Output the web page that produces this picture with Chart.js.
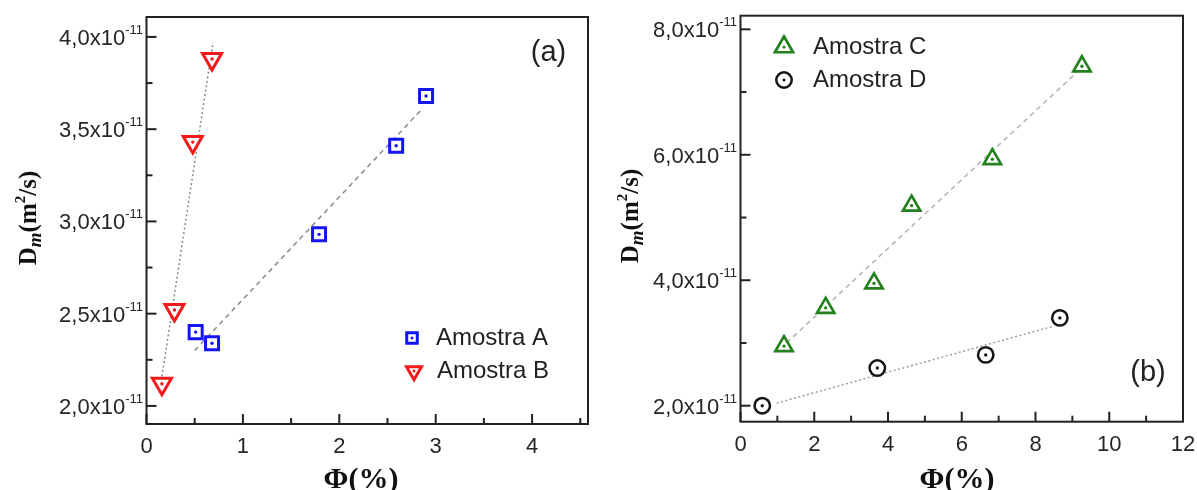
<!DOCTYPE html>
<html>
<head>
<meta charset="utf-8">
<script src="https://cdn.jsdelivr.net/npm/chart.js@4.4.1/dist/chart.umd.min.js"></script>
<style>
  body { margin: 0; background: #fff; }
  #wrap { position: relative; width: 1197px; height: 490px; }
  canvas { position: absolute; top: 0; }
</style>
</head>
<body>
<div id="wrap">
  <canvas id="chartA" width="600" height="490" style="left:0"></canvas>
  <canvas id="chartB" width="597" height="490" style="left:600px"></canvas>
</div>
<script>
// Dm in units of 1e-11 m²/s, Φ in %
// panel (a)
const phiA = [0.51, 0.68, 1.79, 2.59, 2.90];
const dmA  = [2.40, 2.34, 2.93, 3.41, 3.68];
const phiB = [0.16, 0.29, 0.48, 0.68];
const dmB  = [2.12, 2.52, 3.43, 3.88];
const fitPhiA = [0.50, 2.86];
const fitDmA  = [2.30, 3.61];
const fitPhiB = [0.16, 0.69];
const fitDmB  = [2.16, 3.97];

// panel (b)
const phiC = [1.18, 2.31, 3.62, 4.64, 6.83, 9.26];
const dmC  = [2.95, 3.56, 3.95, 5.19, 5.93, 7.41];
const phiD = [0.59, 3.71, 6.65, 8.66];
const dmD  = [2.00, 2.60, 2.81, 3.40];
const fitPhiC = [1.25, 9.13];
const fitDmC  = [3.00, 7.32];
const fitPhiD = [0.98, 8.50];
const fitDmD  = [2.04, 3.27];

// ticks
const xMajorA = [0, 1, 2, 3, 4];
const xMinorA = [0.5, 1.5, 2.5, 3.5, 4.5];
const yMajorA = [2.0, 2.5, 3.0, 3.5, 4.0];
const yMinorA = [2.25, 2.75, 3.25, 3.75];
const yLabelsA = ['2,0', '2,5', '3,0', '3,5', '4,0'];
const xMajorB = [0, 2, 4, 6, 8, 10, 12];
const xMinorB = [1, 3, 5, 7, 9, 11];
const yMajorB = [2, 4, 6, 8];
const yMinorB = [3, 5, 7];
const yLabelsB = ['2,0', '4,0', '6,0', '8,0'];

const SANS = '"Liberation Sans", Arial, sans-serif';
const SERIF = '"Liberation Serif", "Times New Roman", serif';

const pts = (xs, ys) => xs.map((x, i) => ({ x: x, y: ys[i] }));

function markerSet(label, xs, ys, color, style, radius, rot, bw) {
  return {
    label: label, data: pts(xs, ys), showLine: false,
    pointStyle: style, pointRotation: rot || 0,
    pointRadius: radius, pointHoverRadius: radius,
    pointBorderWidth: bw, pointHoverBorderWidth: bw,
    pointBorderColor: color, pointBackgroundColor: '#fff',
    dotColor: color, order: 0
  };
}

function fitSet(xs, ys, color, dash) {
  return {
    data: pts(xs, ys), showLine: true, borderColor: color, borderWidth: 1.5,
    borderDash: dash, pointRadius: 0, pointHoverRadius: 0, order: 2
  };
}

function drawDmTitle(ctx, cx, cy) {
  const parts = [
    ['D', 'bold 25px ' + SERIF, 0],
    ['m', 'bold italic 19px ' + SERIF, 5],
    ['(m', 'bold 25px ' + SERIF, 0],
    ['2', 'bold 15px ' + SERIF, -11],
    ['/s)', 'bold 25px ' + SERIF, 0]
  ];
  ctx.save();
  ctx.translate(cx, cy);
  ctx.rotate(-Math.PI / 2);
  let total = 0;
  parts.forEach(p => { ctx.font = p[1]; total += ctx.measureText(p[0]).width; });
  let x = -total / 2;
  ctx.fillStyle = '#111';
  ctx.textAlign = 'left';
  ctx.textBaseline = 'alphabetic';
  parts.forEach(p => {
    ctx.font = p[1];
    ctx.fillText(p[0], x, p[2] + 8);
    x += ctx.measureText(p[0]).width;
  });
  ctx.restore();
}

// frame, inward ticks, labels, titles and legend for one panel
function panelPlugin(p) {
  return {
    id: 'panelFrame',
    afterDatasetsDraw(chart) {
      const ctx = chart.ctx;
      const a = chart.chartArea;
      const xs = chart.scales.x, ys = chart.scales.y;

      // small dot in the middle of every marker
      chart.data.datasets.forEach((ds, i) => {
        if (!ds.dotColor) return;
        chart.getDatasetMeta(i).data.forEach(el => {
          ctx.beginPath();
          ctx.fillStyle = ds.dotColor;
          ctx.arc(el.x, el.y, 1.7, 0, Math.PI * 2);
          ctx.fill();
        });
      });

      ctx.save();
      ctx.strokeStyle = '#222';
      ctx.lineWidth = 2;
      ctx.strokeRect(a.left, a.top, a.right - a.left, a.bottom - a.top);

      const xTick = (v, len) => {
        const px = xs.getPixelForValue(v);
        ctx.beginPath(); ctx.moveTo(px, a.bottom); ctx.lineTo(px, a.bottom - len); ctx.stroke();
      };
      const yTick = (v, len) => {
        const py = ys.getPixelForValue(v);
        ctx.beginPath(); ctx.moveTo(a.left, py); ctx.lineTo(a.left + len, py); ctx.stroke();
      };
      p.xMajor.forEach(v => xTick(v, 10));
      p.xMinor.forEach(v => xTick(v, 6));
      p.yMajor.forEach(v => yTick(v, 10));
      p.yMinor.forEach(v => yTick(v, 6));

      // x tick labels
      ctx.fillStyle = '#262626';
      ctx.font = '22px ' + SANS;
      ctx.textAlign = 'center';
      ctx.textBaseline = 'alphabetic';
      p.xMajor.forEach(v => ctx.fillText(String(v), xs.getPixelForValue(v), a.bottom + 29));

      // y tick labels, written as "m,mx10^-11"
      const supFont = '13px ' + SANS, mainFont = '22px ' + SANS;
      p.yMajor.forEach((v, i) => {
        const py = ys.getPixelForValue(v);
        const main = p.yLabels[i] + 'x10';
        ctx.font = supFont;
        const sw = ctx.measureText('-11').width;
        ctx.font = mainFont;
        const mw = ctx.measureText(main).width;
        const xr = a.left - p.labelGap;
        ctx.textAlign = 'left';
        ctx.fillText(main, xr - sw - mw, py + 8);
        ctx.font = supFont;
        ctx.fillText('-11', xr - sw, py - 3);
      });

      // axis titles
      ctx.fillStyle = '#111';
      ctx.font = 'bold 30px ' + SERIF;
      ctx.textAlign = 'center';
      ctx.textBaseline = 'middle';
      ctx.fillText('\u03A6(%)', p.xTitle[0], p.xTitle[1]);
      drawDmTitle(ctx, p.yTitle[0], p.yTitle[1]);

      // panel tag
      ctx.fillStyle = '#222';
      ctx.font = '29px ' + SANS;
      ctx.textAlign = 'center';
      ctx.fillText(p.tag, p.tagPos[0], p.tagPos[1]);

      // legend
      p.legend.forEach(item => {
        const ds = chart.data.datasets[item.ds];
        ctx.strokeStyle = ds.pointBorderColor;
        ctx.fillStyle = '#fff';
        ctx.lineWidth = ds.pointBorderWidth;
        Chart.helpers.drawPoint(ctx, {
          pointStyle: ds.pointStyle, rotation: ds.pointRotation,
          radius: item.r, borderWidth: ds.pointBorderWidth
        }, item.x, item.y);
        ctx.beginPath();
        ctx.fillStyle = ds.dotColor;
        ctx.arc(item.x, item.y, 1.5, 0, Math.PI * 2);
        ctx.fill();
        ctx.fillStyle = '#222';
        ctx.font = '24px ' + SANS;
        ctx.textAlign = 'left';
        ctx.textBaseline = 'middle';
        ctx.fillText(ds.label, item.tx, item.y);
      });
      ctx.restore();
    }
  };
}

function makeChart(id, datasets, box, range, p) {
  return new Chart(document.getElementById(id), {
    type: 'scatter',
    data: { datasets: datasets },
    options: {
      responsive: false,
      animation: false,
      events: [],
      layout: { autoPadding: false, padding: { top: box.top, right: box.right, left: 0, bottom: 0 } },
      plugins: { legend: { display: false }, tooltip: { enabled: false } },
      scales: {
        x: {
          type: 'linear', min: range.x[0], max: range.x[1],
          grid: { display: false }, border: { display: false }, ticks: { display: false },
          afterFit(s) { s.height = box.bottom; }
        },
        y: {
          type: 'linear', min: range.y[0], max: range.y[1],
          grid: { display: false }, border: { display: false }, ticks: { display: false },
          afterFit(s) { s.width = box.left; }
        }
      }
    },
    plugins: [panelPlugin(p)]
  });
}

const dsA = [
  markerSet('Amostra A', phiA, dmA, '#1414f5', 'rect', 9.2, 0, 3),
  markerSet('Amostra B', phiB, dmB, '#f21a1a', 'triangle', 11, 180, 3),
  fitSet(fitPhiA, fitDmA, '#8a8a8a', [5, 4]),
  fitSet(fitPhiB, fitDmB, '#8a8a8a', [2, 2.5])
];
makeChart('chartA', dsA,
  { left: 146.5, top: 17, right: 12, bottom: 66 },
  { x: [0, 4.58], y: [1.902, 4.108] },
  {
    xMajor: xMajorA, xMinor: xMinorA, yMajor: yMajorA, yMinor: yMinorA, yLabels: yLabelsA,
    labelGap: 3.5, xTitle: [361, 480], yTitle: [28, 218], tag: '(a)', tagPos: [548.5, 53],
    legend: [
      { ds: 0, r: 7.5, x: 412, y: 338, tx: 436 },
      { ds: 1, r: 8.7, x: 414, y: 371, tx: 437 }
    ]
  });

const dsB = [
  markerSet('Amostra C', phiC, dmC, '#23801f', 'triangle', 10, 0, 2.7),
  markerSet('Amostra D', phiD, dmD, '#151515', 'circle', 7.7, 0, 2.5),
  fitSet(fitPhiC, fitDmC, '#b3b3b3', [5, 4]),
  fitSet(fitPhiD, fitDmD, '#9c9c9c', [2, 2.5])
];
makeChart('chartB', dsB,
  { left: 140.5, top: 15.7, right: 14, bottom: 68.3 },
  { x: [0, 12], y: [1.745, 8.217] },
  {
    xMajor: xMajorB, xMinor: xMinorB, yMajor: yMajorB, yMinor: yMinorB, yLabels: yLabelsB,
    labelGap: 3.5, xTitle: [357, 480], yTitle: [30, 216], tag: '(b)', tagPos: [548, 373],
    legend: [
      { ds: 0, r: 10.5, x: 184, y: 47, tx: 213 },
      { ds: 1, r: 7.7, x: 184, y: 80, tx: 213 }
    ]
  });
</script>
</body>
</html>
